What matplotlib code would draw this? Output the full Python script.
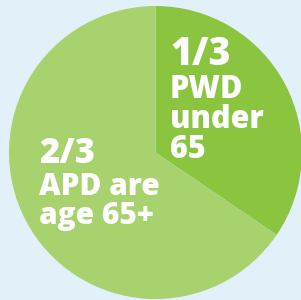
import matplotlib
matplotlib.use("Agg")
import matplotlib.pyplot as plt

# Data
labels = ["PWD under 65", "APD are age 65+"]
shares = [34.5, 65.5]
colors = ["#8bc53f", "#a8d26e"]
bg = "#e2f0fa"

W, H = 301, 300
fig = plt.figure(figsize=(W / 100, H / 100), dpi=100, facecolor=bg)
ax = fig.add_axes([0, 0, 1, 1])
ax.set_facecolor(bg)

cx, cy, r = 155.5, H - 152.5, 146.5
ax.pie(shares, colors=colors, startangle=90, counterclock=False,
       center=(cx, cy), radius=r, wedgeprops=dict(linewidth=0))
ax.set_xlim(0, W)
ax.set_ylim(0, H)
ax.set_aspect("equal")
ax.axis("off")

font = dict(family=["Open Sans", "DejaVu Sans"], weight=800, color="white",
            ha="left", va="baseline")

def t(x, y, s, size):
    ax.text(x, H - y, s, fontsize=size, **font)

# right slice label
t(170, 65, "1/3", 27)
t(170, 98, "PWD", 22)
t(170, 128, "under", 22)
t(170, 158, "65", 22)

# left slice label
t(39, 163, "2/3", 25)
t(39, 195, "APD are", 21.5)
t(39, 224, "age 65+", 21.5)

fig.savefig("out.png", dpi=100, facecolor=bg)
